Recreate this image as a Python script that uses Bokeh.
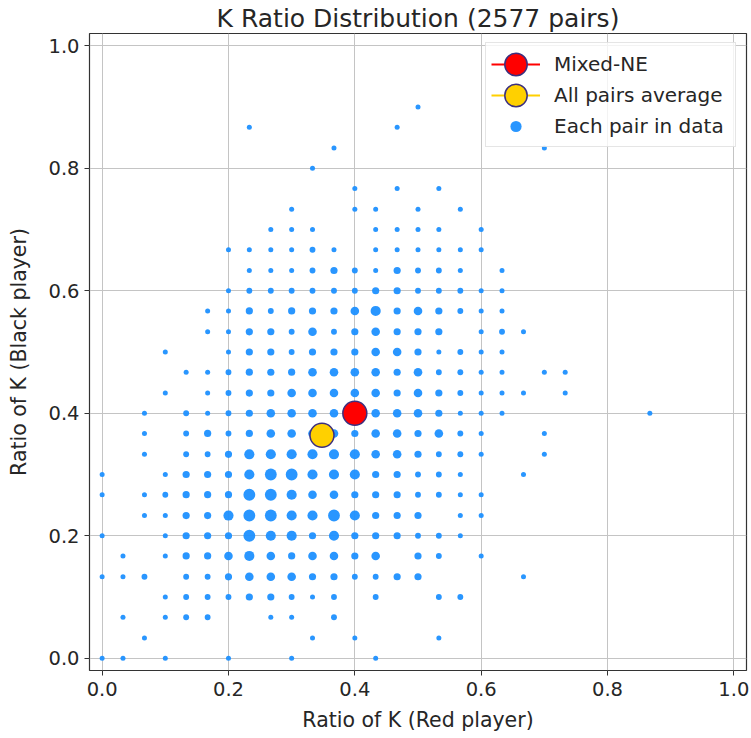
import numpy as np
from bokeh.plotting import figure
from bokeh.models import (FixedTicker, PrintfTickFormatter, Legend, LegendItem,
                          ColumnDataSource, Range1d)
from bokeh.embed import file_html
from bokeh.resources import INLINE

title_text = "K Ratio Distribution (2577 pairs)"
x_label = "Ratio of K (Red player)"
y_label = "Ratio of K (Black player)"
tick_values = [0.0, 0.2, 0.4, 0.6, 0.8, 1.0]

# one row per black-player ratio: red-player ratios and pair counts
black_rows = [0.9, 0.867, 0.833, 0.8, 0.767, 0.733, 0.7, 0.667, 0.633, 0.6,
              0.567, 0.533, 0.5, 0.467, 0.433, 0.4, 0.367, 0.333, 0.3, 0.267,
              0.233, 0.2, 0.167, 0.133, 0.1, 0.067, 0.033, 0.0]
red_by_row = [
    [0.5],
    [0.233, 0.467],
    [0.367, 0.7],
    [0.333],
    [0.4, 0.467, 0.533],
    [0.3, 0.4, 0.433, 0.5, 0.567],
    [0.267, 0.3, 0.333, 0.433, 0.467, 0.5, 0.533, 0.6],
    [0.2, 0.233, 0.267, 0.3, 0.333, 0.367, 0.433, 0.467, 0.5, 0.533, 0.567, 0.6],
    [0.233, 0.267, 0.3, 0.333, 0.367, 0.4, 0.433, 0.467, 0.5, 0.533, 0.567, 0.633],
    [0.2, 0.233, 0.267, 0.3, 0.333, 0.367, 0.4, 0.433, 0.467, 0.5, 0.533, 0.567, 0.6, 0.633],
    [0.167, 0.2, 0.233, 0.267, 0.3, 0.333, 0.367, 0.4, 0.433, 0.467, 0.5, 0.533, 0.567, 0.6, 0.633],
    [0.167, 0.2, 0.233, 0.267, 0.3, 0.333, 0.367, 0.4, 0.433, 0.467, 0.5, 0.533, 0.6, 0.633, 0.667],
    [0.1, 0.2, 0.233, 0.267, 0.3, 0.333, 0.367, 0.4, 0.433, 0.467, 0.5, 0.533, 0.567, 0.6, 0.633],
    [0.133, 0.167, 0.2, 0.233, 0.267, 0.3, 0.333, 0.367, 0.4, 0.433, 0.467, 0.5, 0.533, 0.567, 0.6, 0.633, 0.7, 0.733],
    [0.1, 0.167, 0.2, 0.233, 0.267, 0.3, 0.333, 0.367, 0.4, 0.433, 0.467, 0.5, 0.533, 0.567, 0.6, 0.633, 0.667, 0.733],
    [0.067, 0.133, 0.167, 0.2, 0.233, 0.267, 0.3, 0.333, 0.367, 0.4, 0.433, 0.467, 0.5, 0.533, 0.567, 0.6, 0.633, 0.867],
    [0.067, 0.133, 0.167, 0.2, 0.233, 0.267, 0.3, 0.333, 0.367, 0.4, 0.433, 0.467, 0.5, 0.533, 0.567, 0.6, 0.7],
    [0.067, 0.133, 0.167, 0.2, 0.233, 0.267, 0.3, 0.333, 0.367, 0.4, 0.433, 0.467, 0.5, 0.533, 0.567, 0.6, 0.7],
    [0.0, 0.1, 0.133, 0.167, 0.2, 0.233, 0.267, 0.3, 0.333, 0.367, 0.4, 0.433, 0.467, 0.5, 0.533, 0.567, 0.667],
    [0.0, 0.067, 0.1, 0.133, 0.167, 0.2, 0.233, 0.267, 0.3, 0.333, 0.367, 0.4, 0.433, 0.467, 0.5, 0.533, 0.567, 0.6],
    [0.067, 0.1, 0.133, 0.167, 0.2, 0.233, 0.267, 0.3, 0.333, 0.367, 0.4, 0.433, 0.467, 0.5, 0.567, 0.6],
    [0.0, 0.1, 0.133, 0.167, 0.2, 0.233, 0.267, 0.3, 0.333, 0.367, 0.4, 0.433, 0.467, 0.5, 0.533, 0.567],
    [0.033, 0.1, 0.133, 0.167, 0.2, 0.233, 0.267, 0.3, 0.333, 0.367, 0.4, 0.433, 0.5, 0.533, 0.6],
    [0.0, 0.033, 0.067, 0.133, 0.167, 0.2, 0.233, 0.267, 0.3, 0.333, 0.367, 0.4, 0.433, 0.467, 0.5, 0.667],
    [0.1, 0.133, 0.167, 0.2, 0.233, 0.267, 0.3, 0.333, 0.367, 0.433, 0.533, 0.567],
    [0.033, 0.1, 0.133, 0.167, 0.267, 0.3, 0.367],
    [0.067, 0.333, 0.4, 0.533],
    [0.0, 0.033, 0.1, 0.2, 0.3, 0.433],
]
count_by_row = [
    [1],
    [1, 1],
    [1, 1],
    [1],
    [1, 1, 1],
    [1, 1, 1, 1, 1],
    [1, 1, 1, 1, 1, 1, 1, 1],
    [1, 1, 1, 1, 3, 1, 1, 1, 1, 1, 1, 1],
    [1, 1, 1, 3, 8, 3, 1, 8, 3, 3, 1, 1],
    [1, 3, 3, 3, 3, 3, 3, 8, 8, 3, 3, 3, 1, 1],
    [1, 1, 8, 3, 8, 8, 8, 16, 28, 8, 16, 8, 3, 1, 1],
    [1, 1, 8, 8, 3, 16, 3, 8, 16, 8, 8, 8, 1, 3, 1],
    [1, 1, 8, 8, 3, 8, 8, 8, 16, 16, 8, 1, 3, 1, 1],
    [1, 1, 3, 8, 8, 8, 16, 16, 16, 16, 8, 16, 3, 3, 1, 1, 1, 1],
    [1, 1, 3, 8, 8, 16, 16, 16, 16, 16, 8, 16, 8, 3, 1, 1, 1, 1],
    [1, 3, 1, 3, 8, 16, 16, 16, 16, 28, 16, 16, 16, 8, 1, 1, 1, 1],
    [1, 3, 8, 3, 8, 16, 16, 16, 16, 8, 16, 16, 8, 16, 3, 1, 1],
    [1, 3, 3, 8, 28, 28, 28, 28, 28, 28, 16, 16, 8, 3, 3, 1, 1],
    [1, 1, 8, 8, 8, 28, 45, 45, 28, 28, 28, 8, 8, 3, 3, 1, 1],
    [1, 1, 3, 8, 8, 8, 45, 45, 28, 16, 16, 8, 8, 8, 3, 3, 1, 1],
    [1, 1, 8, 8, 28, 45, 45, 28, 28, 45, 28, 8, 8, 8, 1, 1],
    [1, 1, 8, 8, 8, 45, 28, 28, 8, 28, 8, 8, 8, 3, 3, 1],
    [1, 1, 8, 8, 16, 28, 16, 8, 16, 16, 8, 16, 8, 3, 1],
    [1, 1, 3, 3, 3, 8, 16, 16, 16, 8, 8, 3, 3, 8, 8, 1],
    [1, 3, 3, 3, 8, 8, 3, 1, 3, 3, 3, 3],
    [1, 1, 3, 3, 1, 1, 3],
    [1, 1, 1, 1],
    [1, 1, 1, 1, 1, 1],
]

mixed_ne_red = [0.4]
mixed_ne_black = [0.4]
avg_red = [0.348]
avg_black = [0.364]

# flatten rows
red_ratio, black_ratio, pair_count = [], [], []
for b, reds, cnts in zip(black_rows, red_by_row, count_by_row):
    for r, c in zip(reds, cnts):
        red_ratio.append(r)
        black_ratio.append(b)
        pair_count.append(c)

dot_size = 3.8 + 1.2 * np.sqrt(np.array(pair_count, dtype=float))
src = ColumnDataSource(dict(x=red_ratio, y=black_ratio, s=dot_size))

FONT = "DejaVu Sans"
TXT = "#262626"

p = figure(width=751, height=738, output_backend="svg", toolbar_location=None,
           x_range=Range1d(-0.02, 1.02), y_range=Range1d(-0.02, 1.02),
           min_border_left=89, min_border_right=5, min_border_bottom=68,
           min_border_top=33, title=title_text)
p.background_fill_color = "white"
p.border_fill_color = "white"

p.title.align = "center"
p.title.text_font = FONT
p.title.text_font_size = "25px"
p.title.text_font_style = "normal"
p.title.text_color = TXT
p.title.standoff = 2

for ax in (p.xaxis, p.yaxis):
    ax.ticker = FixedTicker(ticks=tick_values)
    ax.formatter = PrintfTickFormatter(format="%.1f")
    ax.major_label_text_font = FONT
    ax.major_label_text_font_size = "19.5px"
    ax.major_label_text_color = TXT
    ax.axis_label_text_font = FONT
    ax.axis_label_text_font_size = "20.5px"
    ax.axis_label_text_font_style = "normal"
    ax.axis_label_text_color = TXT
    ax.axis_line_color = None
    ax.major_tick_line_color = "#333333"
    ax.major_tick_out = 5
    ax.major_tick_in = 0
    ax.minor_tick_line_color = None
    ax.major_label_standoff = 5
p.xaxis.major_label_standoff = 6
p.xaxis.axis_label = x_label
p.yaxis.axis_label = y_label
p.xaxis.axis_label_standoff = 9
p.yaxis.axis_label_standoff = 14

p.outline_line_color = "#333333"
p.outline_line_width = 1.2
p.grid.grid_line_color = "#c4c4c4"
p.grid.grid_line_width = 1

dots = p.scatter("x", "y", size="s", source=src, marker="circle",
                 fill_color="#1e90ff", line_color=None, fill_alpha=0.95)

ne_line = p.line(mixed_ne_red, mixed_ne_black, line_color="red", line_width=2)
ne_pt = p.ellipse(mixed_ne_red, mixed_ne_black, width=24, height=24,
                  width_units="screen", height_units="screen",
                  fill_color="red", line_color="#3b2f7f", line_width=1.5)
avg_line = p.line(avg_red, avg_black, line_color="#ffd000", line_width=2)
avg_pt = p.ellipse(avg_red, avg_black, width=24, height=24,
                   width_units="screen", height_units="screen",
                   fill_color="#ffd000", line_color="#3b2f7f", line_width=1.5)

legend = Legend(items=[
    LegendItem(label="Mixed-NE", renderers=[ne_line, ne_pt]),
    LegendItem(label="All pairs average", renderers=[avg_line, avg_pt]),
    LegendItem(label="Each pair in data", renderers=[dots]),
], location=(396, 523))
legend.label_text_font = FONT
legend.label_text_font_size = "20px"
legend.label_text_color = TXT
legend.glyph_width = 49
legend.glyph_height = 28
legend.label_height = 31
legend.label_width = 176
legend.spacing = 0
legend.padding = 5
legend.margin = 0
legend.label_standoff = 14
legend.border_line_color = "#cccccc"
legend.border_line_width = 1
legend.background_fill_alpha = 0.8
p.add_layout(legend)

open("out.html", "w").write(file_html(p, INLINE))
